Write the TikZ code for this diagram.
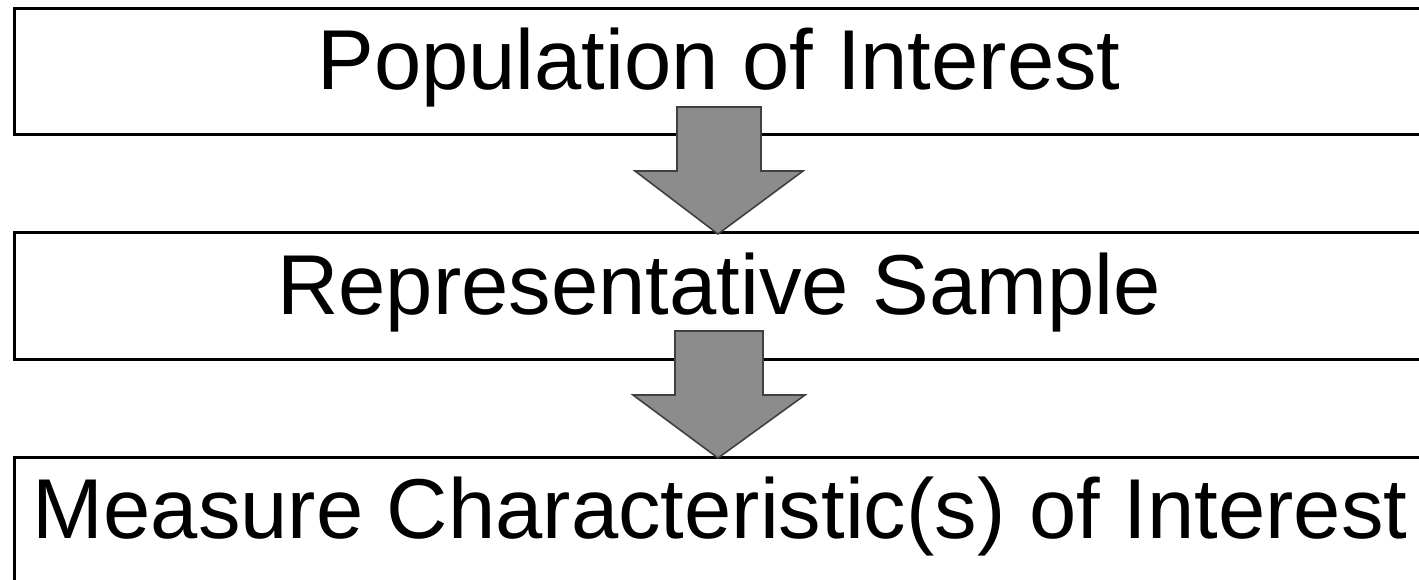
\documentclass[tikz,border=0pt]{standalone}
\usepackage{fontspec}
\setmainfont{Liberation Sans}
\begin{document}
\begin{tikzpicture}[x=1pt,y=-1pt,
  stagebox/.style={draw=black,line width=3pt,fill=white},
  stagetext/.style={anchor=base,inner sep=0pt,font=\fontsize{85}{100}\selectfont},
  flowarrow/.style={fill=black!45,draw=black!75,line width=1.6pt,line join=miter}]
  \useasboundingbox (0,0) rectangle (1419,580);
  \clip (0,0) rectangle (1419,580);

  % stage boxes (run past the right and bottom edges)
  \draw[stagebox] (14,9) rectangle (1430,135);
  \draw[stagebox] (14,233) rectangle (1430,359);
  \draw[stagebox] (14,457) rectangle (1430,600);

  % stage labels
  \node[stagetext] (pop) at (719,90) {Population of Interest};
  \node[stagetext] (sample) at (719,314) {Representative Sample};
  \node[stagetext] (measure) at (720,538) {Measure Characteristic(s) of Interest};

  % block arrows between stages
  \coordinate (a1) at (718,107);
  \coordinate (a2) at (718,331);
  \draw[flowarrow] ([xshift=-41pt]a1) -- ([xshift=43pt]a1) -- ([xshift=43pt,yshift=-64pt]a1)
    -- ([xshift=85pt,yshift=-64pt]a1) -- ([yshift=-127pt]a1) -- ([xshift=-83pt,yshift=-64pt]a1)
    -- ([xshift=-41pt,yshift=-64pt]a1) -- cycle;
  \draw[flowarrow] ([xshift=-43pt]a2) -- ([xshift=45pt]a2) -- ([xshift=45pt,yshift=-64pt]a2)
    -- ([xshift=87pt,yshift=-64pt]a2) -- ([yshift=-127pt]a2) -- ([xshift=-85pt,yshift=-64pt]a2)
    -- ([xshift=-43pt,yshift=-64pt]a2) -- cycle;
\end{tikzpicture}
\end{document}
